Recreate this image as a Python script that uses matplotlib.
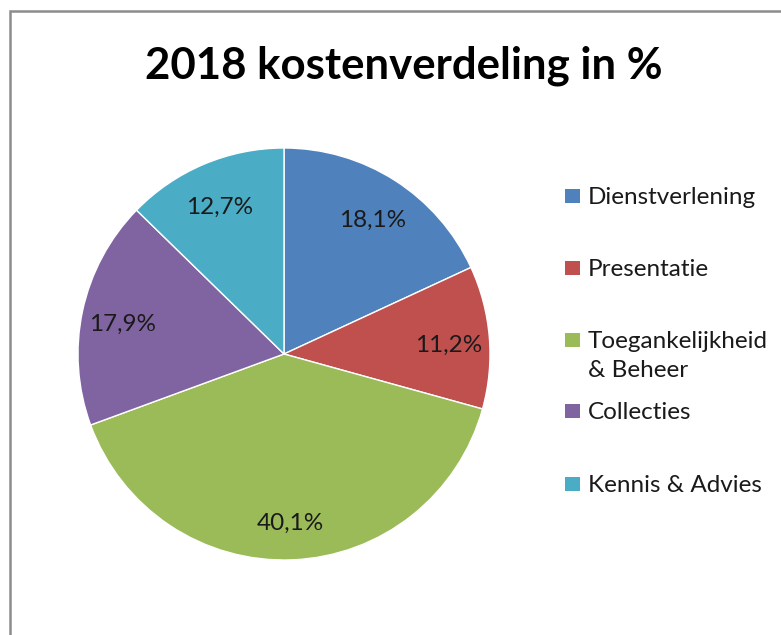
import matplotlib.pyplot as plt
from matplotlib.patches import Rectangle

labels = ['Dienstverlening', 'Presentatie', 'Toegankelijkheid\n& Beheer', 'Collecties', 'Kennis & Advies']
values = [18.1, 11.2, 40.1, 17.9, 12.7]
colors = ['#4F81BD', '#C0504D', '#9BBB59', '#8064A2', '#4BACC6']

plt.rcParams['font.family'] = ['Lato', 'DejaVu Sans']

W, H = 781, 635
fig = plt.figure(figsize=(W / 100, H / 100), dpi=100)

# grey chart border (right/bottom edges fall outside the crop)
fig.patches.append(Rectangle((10 / W, -0.1), 1.2, 1 - 11 / H + 0.1, transform=fig.transFigure,
                             fill=False, edgecolor='#8c8c8c', linewidth=1.8))

fig.text(404 / W, 1 - 66 / H, '2018 kostenverdeling in %', ha='center', va='center',
         fontsize=31.5, fontweight='bold', color='black')

cx, cy, r = 284, 354, 206
ax = fig.add_axes([(cx - r) / W, (H - cy - r) / H, 2 * r / W, 2 * r / H])
wedges, texts, autotexts = ax.pie(values, colors=colors, startangle=90, counterclock=False,
                                  autopct=lambda p: f'{p:.1f}%'.replace('.', ','),
                                  pctdistance=0.8,
                                  wedgeprops=dict(edgecolor='white', linewidth=1),
                                  textprops=dict(fontsize=17.5, color='#1a1a1a'))
# Excel sits the labels a touch lower than the geometric centre
for t in autotexts:
    x, y = t.get_position()
    t.set_position((x, y - 0.025))
ax.set_xlim(-1, 1)
ax.set_ylim(-1, 1)
ax.set_aspect('auto')

# legend drawn by hand so the square lines up with the first text line
ys = [196, 268, 340, 411, 484]
for lab, col, y in zip(labels, colors, ys):
    fig.patches.append(Rectangle((565 / W, 1 - (y + 7) / H), 15 / W, 14 / H,
                                 transform=fig.transFigure, facecolor=col, edgecolor='none'))
    fig.text(588 / W, 1 - (y - 9) / H, lab, ha='left', va='top', fontsize=17.5,
             color='#1a1a1a', linespacing=1.48)

fig.savefig('out.png', dpi=100)
